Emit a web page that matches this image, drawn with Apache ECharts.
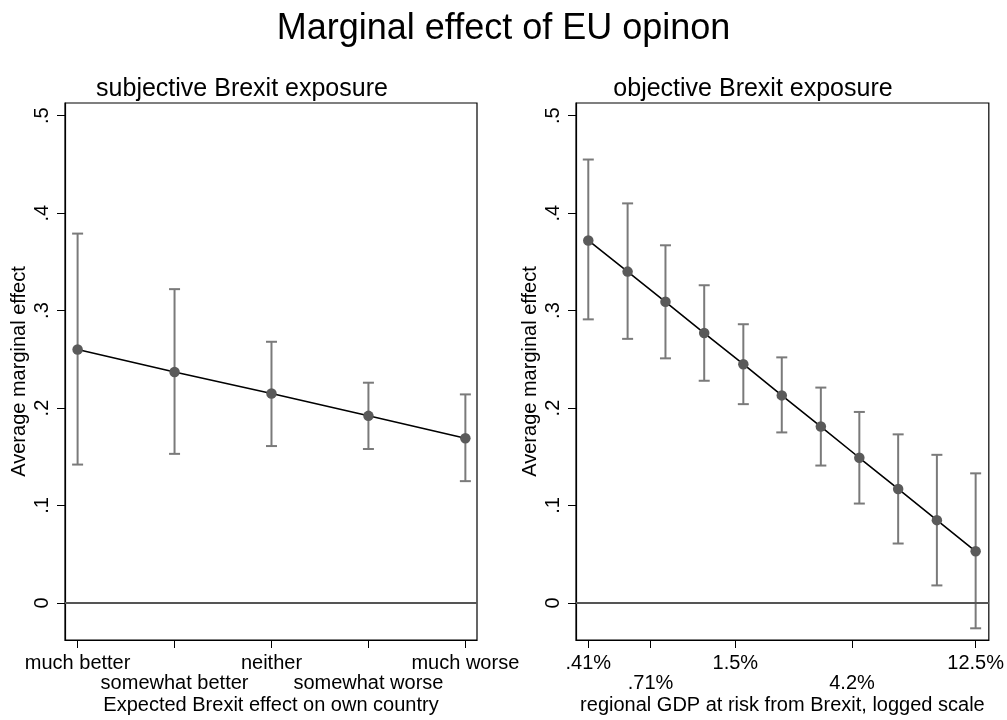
<!DOCTYPE html>
<html>
<head>
<meta charset="utf-8">
<script src="https://cdn.jsdelivr.net/npm/echarts@6/dist/echarts.min.js"></script>
<style>
  html, body { margin: 0; padding: 0; background: #fff; }
  #main { width: 1007px; height: 720px; }
</style>
</head>
<body>
<div id="main"></div>
<script>
// left panel: subjective exposure
const subjLabels = ["much better", "somewhat better", "neither", "somewhat worse", "much worse"];
const subjX = [1, 2, 3, 4, 5];
const subjEst = [0.260, 0.237, 0.215, 0.192, 0.169];
const subjLo = [0.142, 0.153, 0.161, 0.158, 0.125];
const subjHi = [0.379, 0.322, 0.268, 0.226, 0.214];

// right panel: objective exposure (GDP at risk, %)
const gdpRisk = [0.41, 0.58, 0.81, 1.14, 1.61, 2.26, 3.19, 4.48, 6.31, 8.88, 12.5];
const objEst = [0.372, 0.340, 0.309, 0.277, 0.245, 0.213, 0.181, 0.149, 0.117, 0.085, 0.053];
const objLo = [0.291, 0.271, 0.251, 0.228, 0.204, 0.175, 0.141, 0.102, 0.061, 0.018, -0.026];
const objHi = [0.455, 0.410, 0.367, 0.326, 0.286, 0.252, 0.221, 0.196, 0.173, 0.152, 0.133];
const gdpTicks = [0.41, 0.71, 1.5, 4.2, 12.5];
const gdpTickLabels = [".41%", ".71%", "1.5%", "4.2%", "12.5%"];

const yTicks = [0, 0.1, 0.2, 0.3, 0.4, 0.5];

const FONT = "Liberation Sans, Arial, Helvetica, sans-serif";
const chart = echarts.init(document.getElementById("main"));

//误差线
function errBar(params, api) {
  const x = api.value(0);
  const lo = api.coord([x, api.value(1)]);
  const hi = api.coord([x, api.value(2)]);
  const w = 5.5;
  const st = { stroke: "#7a7a7a", lineWidth: 2 };
  return {
    type: "group",
    children: [
      { type: "line", shape: { x1: lo[0], y1: lo[1], x2: hi[0], y2: hi[1] }, style: st },
      { type: "line", shape: { x1: lo[0] - w, y1: lo[1], x2: lo[0] + w, y2: lo[1] }, style: st },
      { type: "line", shape: { x1: hi[0] - w, y1: hi[1], x2: hi[0] + w, y2: hi[1] }, style: st }
    ]
  };
}

function yAxisOpt(idx) {
  return {
    type: "value",
    gridIndex: idx,
    min: -0.038,
    max: 0.513,
    name: "Average marginal effect",
    nameLocation: "middle",
    nameGap: 36,
    nameTextStyle: { fontSize: 20, color: "#000", fontFamily: FONT },
    axisLine: { show: true, onZero: false, lineStyle: { color: "#000", width: 1.2 } },
    axisTick: { show: true, length: 8, customValues: yTicks, lineStyle: { color: "#000" } },
    axisLabel: {
      customValues: yTicks,
      rotate: 90,
      margin: 13,
      fontSize: 20,
      color: "#000",
      fontFamily: FONT,
      formatter: v => (v === 0 ? "0" : String(Math.round(v * 10) / 10).replace(/^0/, ""))
    },
    splitLine: { show: false }
  };
}

// x 轴：一行标签一根轴（第二行只放标签）
function xAxisOpt(grid, min, max, ticks, labels, row, name) {
  const vals = [], txt = [];
  ticks.forEach((t, i) => { if (i % 2 === row) { vals.push(t); txt.push(labels[i]); } });
  const ax = {
    type: "value",
    gridIndex: grid,
    position: "bottom",
    min: min,
    max: max,
    axisLine: { show: row === 0, onZero: false, lineStyle: { color: "#000", width: 1.2 } },
    axisTick: { show: row === 0, length: 8, customValues: ticks, lineStyle: { color: "#000" } },
    axisLabel: {
      customValues: vals,
      margin: row === 0 ? 13 : 33,
      fontSize: 20,
      color: "#000",
      fontFamily: FONT,
      showMinLabel: true,
      showMaxLabel: true,
      formatter: v => {
        let k = 0;
        vals.forEach((t, j) => { if (Math.abs(t - v) < Math.abs(vals[k] - v)) k = j; });
        return txt[k];
      }
    },
    splitLine: { show: false }
  };
  if (name) {
    ax.name = name;
    ax.nameLocation = "middle";
    ax.nameGap = 55;
    ax.nameTextStyle = { fontSize: 20, color: "#000", fontFamily: FONT };
  }
  return ax;
}

const gdpLog = gdpTicks.map(Math.log);

const option = {
  backgroundColor: "#fff",
  animation: false,
  title: [
    { text: "Marginal effect of EU opinon", left: "center", top: 6,
      textStyle: { fontSize: 36, fontWeight: "normal", color: "#000", fontFamily: FONT } },
    { text: "subjective Brexit exposure", left: 237, textAlign: "center", top: 72,
      textStyle: { fontSize: 25, fontWeight: "normal", color: "#000", fontFamily: FONT } },
    { text: "objective Brexit exposure", left: 748, textAlign: "center", top: 72,
      textStyle: { fontSize: 25, fontWeight: "normal", color: "#000", fontFamily: FONT } }
  ],
  grid: [
    { left: 65, top: 103, width: 412, height: 537, show: true, borderColor: "#000", borderWidth: 1.2 },
    { left: 576, top: 103, width: 413, height: 537, show: true, borderColor: "#000", borderWidth: 1.2 }
  ],
  xAxis: [
    xAxisOpt(0, 0.87, 5.12, subjX, subjLabels, 0, "Expected Brexit effect on own country"),
    xAxisOpt(0, 0.87, 5.12, subjX, subjLabels, 1),
    xAxisOpt(1, -1.0, 2.642, gdpLog, gdpTickLabels, 0, "regional GDP at risk from Brexit, logged scale"),
    xAxisOpt(1, -1.0, 2.642, gdpLog, gdpTickLabels, 1)
  ],
  yAxis: [yAxisOpt(0), yAxisOpt(1)],
  series: [
    {
      type: "custom",
      xAxisIndex: 0,
      yAxisIndex: 0,
      renderItem: errBar,
      data: subjX.map((x, i) => [x, subjLo[i], subjHi[i]]),
      z: 2
    },
    {
      type: "line",
      xAxisIndex: 0,
      yAxisIndex: 0,
      data: subjX.map((x, i) => [x, subjEst[i]]),
      symbol: "circle",
      symbolSize: 10.5,
      itemStyle: { color: "#5a5a5a" },
      lineStyle: { color: "#000", width: 1.6 },
      z: 3,
      markLine: {
        silent: true,
        symbol: "none",
        label: { show: false },
        lineStyle: { color: "#555", width: 2, type: "solid" },
        data: [{ yAxis: 0 }]
      }
    },
    {
      type: "custom",
      xAxisIndex: 2,
      yAxisIndex: 1,
      renderItem: errBar,
      data: gdpRisk.map((g, i) => [Math.log(g), objLo[i], objHi[i]]),
      z: 2
    },
    {
      type: "line",
      xAxisIndex: 2,
      yAxisIndex: 1,
      data: gdpRisk.map((g, i) => [Math.log(g), objEst[i]]),
      symbol: "circle",
      symbolSize: 10.5,
      itemStyle: { color: "#5a5a5a" },
      lineStyle: { color: "#000", width: 1.6 },
      z: 3,
      markLine: {
        silent: true,
        symbol: "none",
        label: { show: false },
        lineStyle: { color: "#555", width: 2, type: "solid" },
        data: [{ yAxis: 0 }]
      }
    }
  ]
};

chart.setOption(option);
</script>
</body>
</html>
